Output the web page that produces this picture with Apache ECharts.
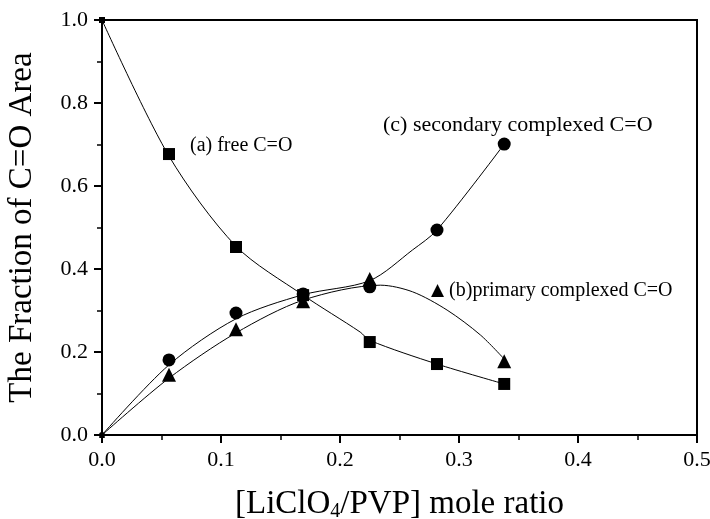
<!DOCTYPE html>
<html>
<head>
<meta charset="utf-8">
<script src="https://cdn.jsdelivr.net/npm/echarts@6/dist/echarts.min.js"></script>
<style>
  html, body { margin: 0; padding: 0; background: #fff; }
  #chart { width: 710px; height: 519px; }
</style>
</head>
<body>
<div id="chart"></div>
<script>
// mole ratio of the measured samples
var ratio = [0, 0.0563, 0.1126, 0.169, 0.225, 0.2815, 0.338];
var ratioB = [0, 0.0563, 0.1126, 0.169, 0.225, 0.338];

// measured fractions (markers)
var freeCO = [1.0, 0.677, 0.453, 0.337, 0.224, 0.171, 0.123];
var secondaryCO = [0, 0.181, 0.294, 0.340, 0.357, 0.494, 0.701];
var primaryCO = [0, 0.145, 0.255, 0.322, 0.376, 0.178];

// fitted curves
var fitAx = [0, 0.0563, 0.1126, 0.169, 0.217, 0.225, 0.2815, 0.338];
var fitAy = [1.0, 0.672, 0.455, 0.337, 0.248, 0.228, 0.171, 0.123];
var fitCx = [0, 0.0563, 0.1126, 0.169, 0.225, 0.261, 0.2815, 0.338];
var fitCy = [0, 0.169, 0.280, 0.338, 0.372, 0.446, 0.494, 0.701];
var fitBx = [0, 0.0563, 0.1126, 0.169, 0.234, 0.261, 0.290, 0.318, 0.338];
var fitBy = [0, 0.137, 0.246, 0.325, 0.361, 0.345, 0.301, 0.241, 0.183];

function pairs(xs, ys) {
  var out = [];
  for (var i = 0; i < xs.length; i++) out.push([xs[i], ys[i]]);
  return out;
}

var serif = 'Liberation Serif';

function sizeFn(big) {
  return function (v) { return v[0] === 0 ? 6 : big; };
}

function fitLine(xs, ys) {
  return {
    type: 'line',
    data: pairs(xs, ys),
    smooth: 0.3,
    showSymbol: false,
    silent: true,
    lineStyle: { color: '#000', width: 1 }
  };
}

function dots(name, xs, ys, symbol, size) {
  return {
    name: name,
    type: 'scatter',
    data: pairs(xs, ys),
    symbol: symbol,
    symbolSize: sizeFn(size),
    itemStyle: { color: '#000', opacity: 1 },
    z: 3
  };
}

var myChart = echarts.init(document.getElementById('chart'));

var option = {
  backgroundColor: '#fff',
  animation: false,
  grid: {
    left: 102, right: 13, top: 20, bottom: 84,
    outerBoundsMode: 'none', containLabel: false,
    show: true, borderColor: '#000', borderWidth: 2
  },
  xAxis: {
    type: 'value',
    min: 0, max: 0.5, interval: 0.1,
    name: '[LiClO{sub|4}/PVP] mole ratio',
    nameLocation: 'middle',
    nameGap: 51,
    nameTextStyle: {
      fontFamily: serif, fontSize: 33, color: '#000',
      rich: { sub: { fontFamily: serif, fontSize: 20, color: '#000', verticalAlign: 'bottom', padding: [16, 0, 0, 0] } }
    },
    axisLine: { lineStyle: { color: '#000', width: 2 } },
    axisTick: { length: 8, lineStyle: { color: '#000', width: 2 } },
    minorTick: { show: true, splitNumber: 2, length: 5, lineStyle: { color: '#000', width: 1.5 } },
    splitLine: { show: false },
    axisLabel: {
      fontFamily: serif, fontSize: 22, color: '#000', margin: 14,
      formatter: function (v) { return v.toFixed(1); }
    }
  },
  yAxis: {
    type: 'value',
    min: 0, max: 1.0, interval: 0.2,
    name: 'The Fraction of C=O Area',
    nameLocation: 'middle',
    nameGap: 63,
    nameTextStyle: { fontFamily: serif, fontSize: 33, color: '#000' },
    axisLine: { lineStyle: { color: '#000', width: 2 } },
    axisTick: { length: 8, lineStyle: { color: '#000', width: 2 } },
    minorTick: { show: true, splitNumber: 2, length: 5, lineStyle: { color: '#000', width: 1.5 } },
    splitLine: { show: false },
    axisLabel: {
      fontFamily: serif, fontSize: 22, color: '#000', margin: 14,
      formatter: function (v) { return v.toFixed(1); }
    }
  },
  series: [
    fitLine(fitAx, fitAy),
    fitLine(fitCx, fitCy),
    fitLine(fitBx, fitBy),
    dots('(a) free C=O', ratio, freeCO, 'rect', 12),
    dots('(c) secondary complexed C=O', ratio, secondaryCO, 'circle', 13),
    dots('(b)primary complexed C=O', ratioB, primaryCO, 'triangle', 14)
  ],
  graphic: [
    { type: 'text', left: 190, top: 136, style: { text: '(a) free C=O', fontFamily: serif, fontSize: 20, fill: '#000' } },
    { type: 'text', left: 383, top: 114, style: { text: '(c) secondary complexed C=O', fontFamily: serif, fontSize: 22, fill: '#000' } },
    {
      type: 'text', left: 431, top: 281,
      style: {
        text: '{t|\u25B2} (b)primary complexed C=O',
        fontFamily: serif, fontSize: 20, fill: '#000',
        rich: { t: { fontFamily: 'DejaVu Sans', fontSize: 17, fill: '#000' } }
      }
    }
  ]
};

myChart.setOption(option, true);
</script>
</body>
</html>
